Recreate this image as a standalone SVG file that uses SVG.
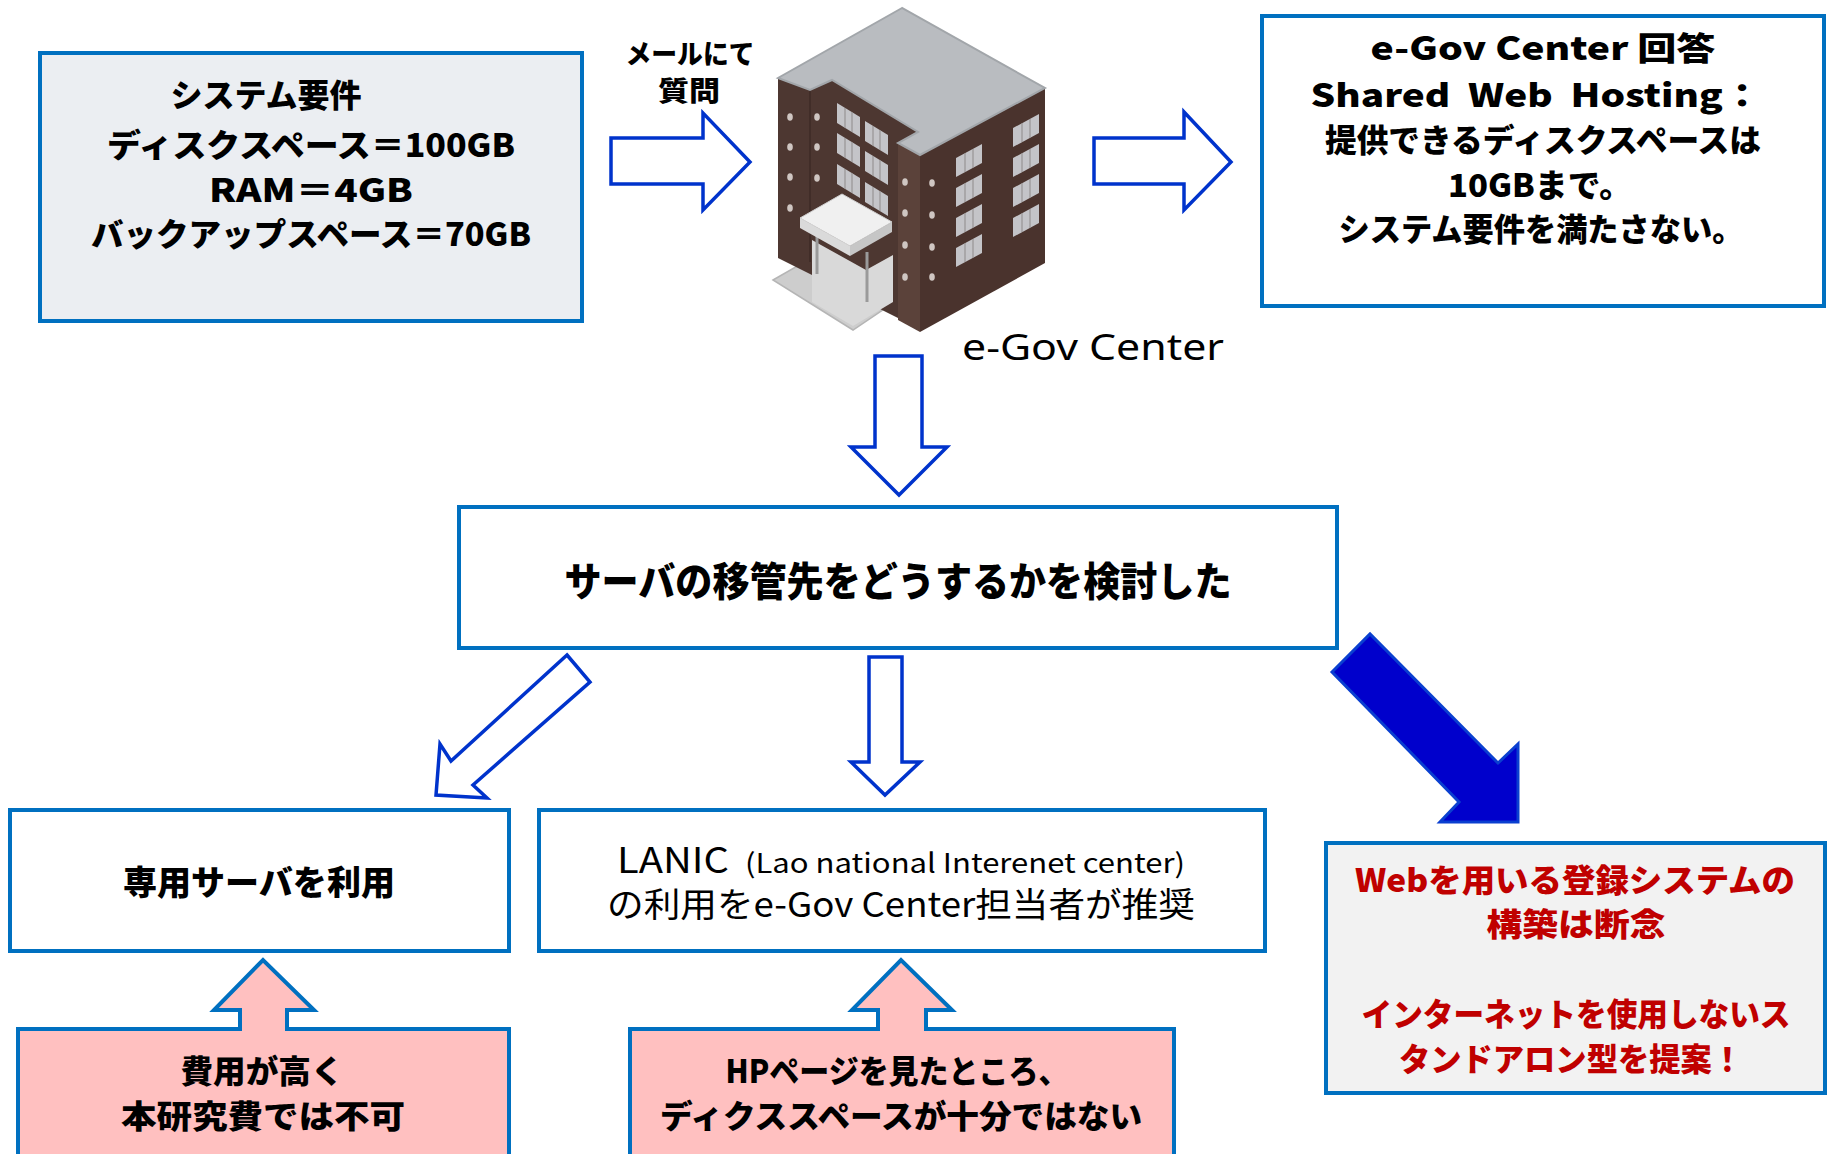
<svg xmlns="http://www.w3.org/2000/svg" width="1833" height="1154" viewBox="0 0 1833 1154">
  <style>
    .box { stroke: #0070C0; stroke-width: 4; }
    .jp { font-family: "Noto Sans CJK JP", "Noto Sans", sans-serif; font-weight: 900; fill: #000; text-anchor: middle; }
    .jpr { font-family: "Noto Sans CJK JP", "Noto Sans", sans-serif; font-weight: 400; fill: #000; }
    .red { fill: #C00000; }
    .hollow { fill: #FFFFFF; stroke: #0033CC; stroke-width: 3.5; stroke-linejoin: miter; }
    .solid { fill: #0000CC; stroke: #0A3FD0; stroke-width: 3; }
    .pink { fill: #FFC0C0; stroke: #0070C0; stroke-width: 4; }
    .win { fill: #C4C4C8; }
    .dot { fill: #CFC6C2; }
  </style>

  <!-- system requirements -->
  <g id="requirements">
    <rect class="box" x="40" y="53" width="542" height="268" fill="#EBEEF2"/>
    <text class="jp" font-size="32" x="266" y="107" textLength="191" lengthAdjust="spacingAndGlyphs">システム要件</text>
    <text class="jp" font-size="32" x="311" y="157" textLength="408" lengthAdjust="spacingAndGlyphs">ディスクスペース＝100GB</text>
    <text class="jp" font-size="32" x="311" y="202" textLength="204" lengthAdjust="spacingAndGlyphs">RAM＝4GB</text>
    <text class="jp" font-size="32" x="311" y="246" textLength="440" lengthAdjust="spacingAndGlyphs">バックアップスペース＝70GB</text>
  </g>

  <!-- mail label -->
  <g id="mail-label">
    <text class="jp" font-size="27" x="690" y="64" textLength="129" lengthAdjust="spacingAndGlyphs">メールにて</text>
    <text class="jp" font-size="27" x="689" y="101" textLength="62" lengthAdjust="spacingAndGlyphs">質問</text>
  </g>

  <!-- e-Gov Center building -->
  <g id="egov-center">
    <!-- ground slab -->
    <polygon points="773,280 813,257 893,303 853,330" fill="#CDCDCD" stroke="#B5B5B5" stroke-width="1.5"/>
    <!-- walls -->
    <polygon points="778,78 810,90 832,80 918,132 898,143 898,318 778,258" fill="#4D3731"/>
    <polygon points="898,143 920,155 920,332 898,320" fill="#5B423A"/>
    <polygon points="920,155 1045,88 1045,263 920,332" fill="#4A332D"/>
    <line x1="810" y1="90" x2="810" y2="262" stroke="#3E2B26" stroke-width="1.5"/>
    <!-- roof -->
    <polygon points="902,8 778,78 810,90 832,80 918,132 898,143 920,155 1045,88" fill="#B9BCC0" stroke="#A2A6AA" stroke-width="2"/>
    <!-- right face windows -->
    <g class="win">
      <polygon points="956,158 982,144 982,163 956,177"/>
      <polygon points="956,188 982,174 982,193 956,207"/>
      <polygon points="956,218 982,204 982,223 956,237"/>
      <polygon points="956,248 982,234 982,253 956,267"/>
      <polygon points="1013,128 1039,114 1039,133 1013,147"/>
      <polygon points="1013,158 1039,144 1039,163 1013,177"/>
      <polygon points="1013,188 1039,174 1039,193 1013,207"/>
      <polygon points="1013,218 1039,204 1039,223 1013,237"/>
      <!-- recessed wall windows -->
      <polygon points="837,103 860,117 860,137 837,123"/>
      <polygon points="837,133 860,147 860,167 837,153"/>
      <polygon points="837,164 860,178 860,198 837,184"/>
      <polygon points="865,121 888,135 888,155 865,141"/>
      <polygon points="865,151 888,165 888,185 865,171"/>
      <polygon points="865,182 888,196 888,216 865,202"/>
    </g>
    <g stroke="#8E8A8A" stroke-width="1">
      <line x1="965" y1="153" x2="965" y2="172"/><line x1="973" y1="149" x2="973" y2="168"/>
      <line x1="965" y1="183" x2="965" y2="202"/><line x1="973" y1="179" x2="973" y2="198"/>
      <line x1="965" y1="213" x2="965" y2="232"/><line x1="973" y1="209" x2="973" y2="228"/>
      <line x1="965" y1="243" x2="965" y2="262"/><line x1="973" y1="239" x2="973" y2="258"/>
      <line x1="1022" y1="123" x2="1022" y2="142"/><line x1="1030" y1="119" x2="1030" y2="138"/>
      <line x1="1022" y1="153" x2="1022" y2="172"/><line x1="1030" y1="149" x2="1030" y2="168"/>
      <line x1="1022" y1="183" x2="1022" y2="202"/><line x1="1030" y1="179" x2="1030" y2="198"/>
      <line x1="1022" y1="213" x2="1022" y2="232"/><line x1="1030" y1="209" x2="1030" y2="228"/>
      <line x1="845" y1="108" x2="845" y2="128"/><line x1="852" y1="112" x2="852" y2="132"/>
      <line x1="845" y1="138" x2="845" y2="158"/><line x1="852" y1="142" x2="852" y2="162"/>
      <line x1="845" y1="169" x2="845" y2="189"/><line x1="852" y1="173" x2="852" y2="193"/>
      <line x1="873" y1="126" x2="873" y2="146"/><line x1="880" y1="130" x2="880" y2="150"/>
      <line x1="873" y1="156" x2="873" y2="176"/><line x1="880" y1="160" x2="880" y2="180"/>
      <line x1="873" y1="187" x2="873" y2="207"/><line x1="880" y1="191" x2="880" y2="211"/>
    </g>
    <!-- round windows -->
    <g class="dot">
      <ellipse cx="790" cy="117" rx="2.8" ry="3.8"/><ellipse cx="790" cy="147" rx="2.8" ry="3.8"/>
      <ellipse cx="790" cy="177" rx="2.8" ry="3.8"/><ellipse cx="790" cy="208" rx="2.8" ry="3.8"/>
      <ellipse cx="817" cy="117" rx="2.8" ry="3.8"/><ellipse cx="817" cy="147" rx="2.8" ry="3.8"/>
      <ellipse cx="817" cy="178" rx="2.8" ry="3.8"/>
      <ellipse cx="905" cy="182" rx="2.8" ry="3.8"/><ellipse cx="905" cy="213" rx="2.8" ry="3.8"/>
      <ellipse cx="905" cy="245" rx="2.8" ry="3.8"/><ellipse cx="905" cy="277" rx="2.8" ry="3.8"/>
      <ellipse cx="932" cy="183" rx="2.8" ry="3.8"/><ellipse cx="932" cy="215" rx="2.8" ry="3.8"/>
      <ellipse cx="932" cy="247" rx="2.8" ry="3.8"/><ellipse cx="932" cy="277" rx="2.8" ry="3.8"/>
    </g>
    <!-- entrance canopy -->
    <polygon points="812,240 866,270 893,255 893,302 853,326 812,302" fill="#D9D9D9"/>
    <line x1="817" y1="236" x2="817" y2="274" stroke="#9A9A9A" stroke-width="3"/>
    <line x1="867" y1="252" x2="867" y2="302" stroke="#9A9A9A" stroke-width="3"/>
    <polygon points="800,218 842,194 892,222 850,246" fill="#F0F0F0" stroke="#CFCFCF" stroke-width="1"/>
    <polygon points="800,218 850,246 850,256 800,228" fill="#DADADA"/>
    <polygon points="850,246 892,222 892,232 850,256" fill="#C6C6C6"/>
    <text x="962" y="360" font-family="'Noto Sans', 'DejaVu Sans', sans-serif" font-size="37" fill="#000" textLength="262" lengthAdjust="spacingAndGlyphs">e-Gov Center</text>
  </g>

  <!-- e-Gov Center answer -->
  <g id="egov-answer">
    <rect class="box" x="1262" y="16" width="562" height="290" fill="#FFFFFF"/>
    <text class="jp" font-size="32" x="1543" y="60" textLength="345" lengthAdjust="spacingAndGlyphs">e-Gov Center 回答</text>
    <text class="jp" font-size="32" x="1536" y="107" textLength="451" lengthAdjust="spacingAndGlyphs" xml:space="preserve">Shared  Web  Hosting：</text>
    <text class="jp" font-size="32" x="1543" y="152" textLength="436" lengthAdjust="spacingAndGlyphs">提供できるディスクスペースは</text>
    <text class="jp" font-size="32" x="1540" y="197" textLength="184" lengthAdjust="spacingAndGlyphs">10GBまで。</text>
    <text class="jp" font-size="32" x="1541" y="241" textLength="405" lengthAdjust="spacingAndGlyphs">システム要件を満たさない。</text>
  </g>

  <!-- decision -->
  <g id="decision">
    <rect class="box" x="459" y="507" width="878" height="141" fill="#FFFFFF"/>
    <text class="jp" font-size="40" x="898" y="596" textLength="667" lengthAdjust="spacingAndGlyphs">サーバの移管先をどうするかを検討した</text>
  </g>

  <!-- dedicated server option -->
  <g id="dedicated-server">
    <rect class="box" x="10" y="810" width="499" height="141" fill="#FFFFFF"/>
    <text class="jp" font-size="34" x="259" y="895" textLength="272" lengthAdjust="spacingAndGlyphs">専用サーバを利用</text>
  </g>

  <!-- LANIC option -->
  <g id="lanic">
    <rect class="box" x="539" y="810" width="726" height="141" fill="#FFFFFF"/>
    <text class="jpr" font-size="36" x="617" y="873" textLength="112" lengthAdjust="spacingAndGlyphs">LANIC</text>
    <text class="jpr" font-size="27" x="745" y="873" textLength="440" lengthAdjust="spacingAndGlyphs">(Lao national Interenet center)</text>
    <text class="jpr" font-size="34" x="607" y="917" textLength="588" lengthAdjust="spacingAndGlyphs">の利用をe-Gov Center担当者が推奨</text>
  </g>

  <!-- cost reason -->
  <g id="cost-reason">
    <path class="pink" d="M18,1160 V1029 H240 V1010 H214 L263,960 L314,1010 H287 V1029 H509 V1160"/>
    <text class="jp" font-size="32" x="262" y="1083" textLength="163" lengthAdjust="spacingAndGlyphs">費用が高く</text>
    <text class="jp" font-size="32" x="263" y="1128" textLength="284" lengthAdjust="spacingAndGlyphs">本研究費では不可</text>
  </g>

  <!-- disk space reason -->
  <g id="space-reason">
    <path class="pink" d="M630,1160 V1029 H878 V1010 H852 L901,960 L952,1010 H926 V1029 H1174 V1160"/>
    <text class="jp" font-size="32" x="897" y="1083" textLength="343" lengthAdjust="spacingAndGlyphs">HPページを見たところ、</text>
    <text class="jp" font-size="32" x="901" y="1128" textLength="482" lengthAdjust="spacingAndGlyphs">ディクススペースが十分ではない</text>
  </g>

  <!-- conclusion -->
  <g id="conclusion">
    <rect class="box" x="1326" y="843" width="499" height="250" fill="#F2F2F2"/>
    <text class="jp red" font-size="32" x="1575" y="892" textLength="440" lengthAdjust="spacingAndGlyphs">Webを用いる登録システムの</text>
    <text class="jp red" font-size="32" x="1576" y="936" textLength="179" lengthAdjust="spacingAndGlyphs">構築は断念</text>
    <text class="jp red" font-size="32" x="1576" y="1026" textLength="429" lengthAdjust="spacingAndGlyphs">インターネットを使用しないス</text>
    <text class="jp red" font-size="32" x="1571" y="1071" textLength="344" lengthAdjust="spacingAndGlyphs">タンドアロン型を提案！</text>
  </g>

  <!-- connectors -->
  <g id="connectors">
    <polygon class="hollow" points="611,138 703,138 703,113 750,162 703,210 703,184 611,184"/>
    <polygon class="hollow" points="1094,138 1184,138 1184,112 1231,162 1184,210 1184,184 1094,184"/>
    <polygon class="hollow" points="875,356 922,356 922,447 947,447 899,495 851,447 875,447"/>
    <polygon class="hollow" points="567,655 590,682 473,785 487,798 436,795 440,744 451,761"/>
    <polygon class="hollow" points="869,657 902,657 902,762 920,762 885,795 851,762 869,762"/>
    <polygon class="solid" points="1332,672 1370,634 1498,763 1518,744 1518,822 1440,822 1459,802"/>
  </g>
</svg>
